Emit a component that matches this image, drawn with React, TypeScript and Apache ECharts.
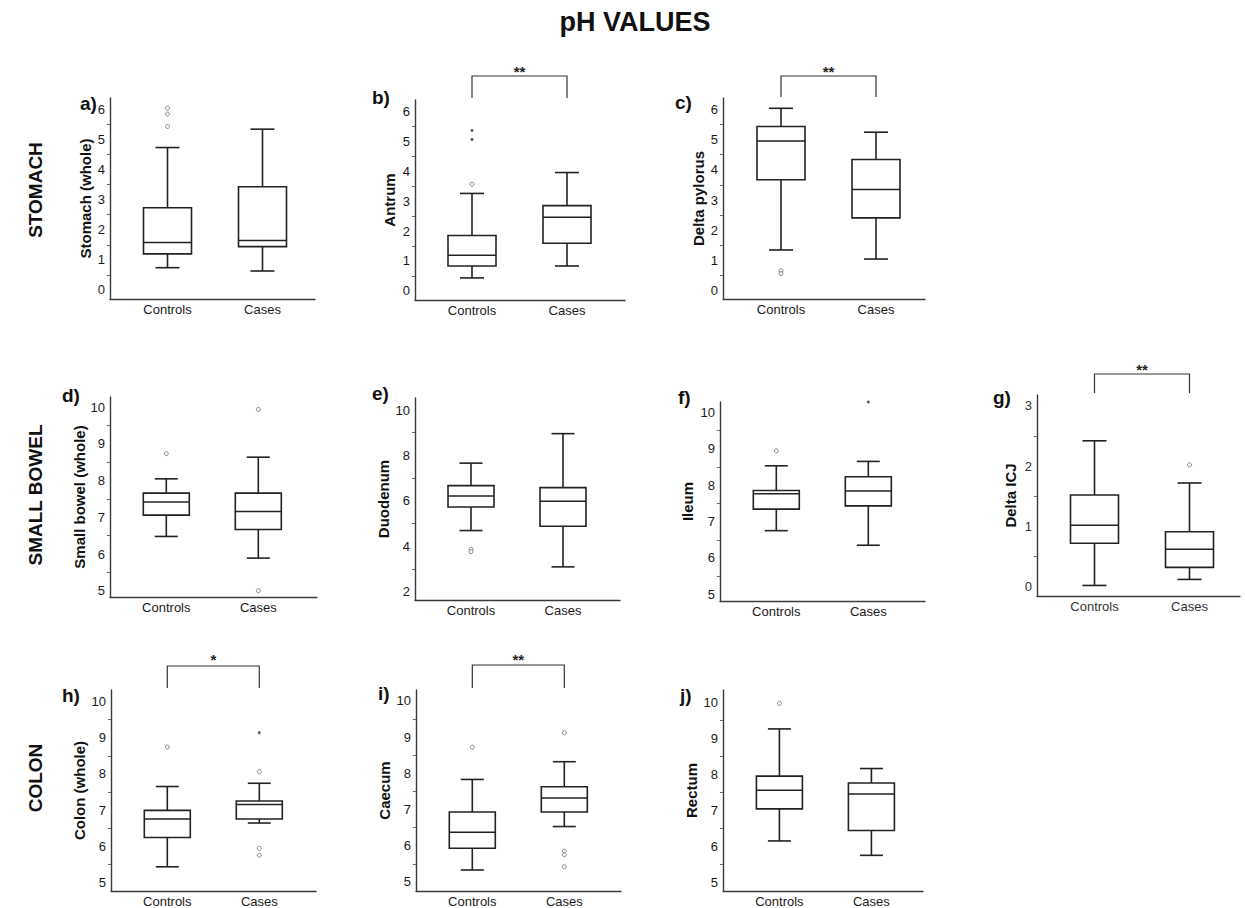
import React, { useEffect, useRef } from "react";
import * as echarts from "echarts";

const FONT = "'Liberation Sans', Arial, Helvetica, sans-serif";

const categories = ["Controls", "Cases"];
const panelLetters = ["a)", "b)", "c)", "d)", "e)", "f)", "g)", "h)", "i)", "j)"];
const yAxisNames = [
  "Stomach (whole)", "Antrum", "Delta pylorus",
  "Small bowel (whole)", "Duodenum", "Ileum", "Delta ICJ",
  "Colon (whole)", "Caecum", "Rectum",
];
const rowLabels = ["STOMACH", "SMALL BOWEL", "COLON"];
const significance = ["", "**", "**", "", "", "", "**", "*", "**", ""];

// Box statistics per group: [min, Q1, median, Q3, max]; first Controls, then Cases
const stomachBox = [[0.74, 1.2, 1.58, 2.73, 4.73], [0.63, 1.44, 1.64, 3.43, 5.34]];
const antrumBox = [[0.43, 0.83, 1.19, 1.85, 3.26], [0.83, 1.59, 2.46, 2.85, 3.96]];
const pylorusBox = [[1.35, 3.67, 4.95, 5.43, 6.03], [1.05, 2.41, 3.35, 4.34, 5.24]];
const smallBowelBox = [[6.48, 7.06, 7.42, 7.66, 8.05], [5.89, 6.67, 7.16, 7.66, 8.64]];
const duodenumBox = [[4.69, 5.73, 6.21, 6.67, 7.66], [3.09, 4.88, 5.98, 6.58, 8.96]];
const ileumBox = [[6.75, 7.34, 7.76, 7.85, 8.53], [6.35, 7.43, 7.84, 8.23, 8.65]];
const icjBox = [[0.02, 0.72, 1.02, 1.52, 2.42], [0.12, 0.32, 0.62, 0.91, 1.72]];
const colonBox = [[5.43, 6.24, 6.75, 6.99, 7.65], [6.64, 6.75, 7.15, 7.25, 7.74]];
const caecumBox = [[5.33, 5.93, 6.37, 6.93, 7.83], [6.53, 6.93, 7.32, 7.63, 8.32]];
const rectumBox = [[6.15, 7.04, 7.56, 7.95, 9.26], [5.75, 6.44, 7.45, 7.76, 8.16]];

// Outliers (circles): [group index, value]
const stomachOut = [[0, 6.04], [0, 5.84], [0, 5.43]];
const antrumOut = [[0, 3.57]];
const pylorusOut = [[0, 0.66], [0, 0.57]];
const smallBowelOut = [[0, 8.74], [1, 9.94], [1, 5.0]];
const duodenumOut = [[0, 3.87], [0, 3.76]];
const ileumOut = [[0, 8.94]];
const icjOut = [[1, 2.02]];
const colonOut = [[0, 8.74], [1, 8.06], [1, 5.94], [1, 5.75]];
const caecumOut = [[0, 8.72], [1, 9.12], [1, 5.85], [1, 5.75], [1, 5.42]];
const rectumOut = [[0, 9.97]];

// Extreme values (asterisks): [group index, value]
const antrumExt = [[0, 5.37], [0, 5.07]];
const ileumExt = [[1, 10.28]];
const colonExt = [[1, 9.14]];

// Tick labels
const stomachTicks = [0, 1, 2, 3, 4, 5, 6];
const bowelTicks = [5, 6, 7, 8, 9, 10];
const duodenumTicks = [2, 4, 6, 8, 10];
const icjTicks = [0, 1, 2, 3];

const boxes = [stomachBox, antrumBox, pylorusBox, smallBowelBox, duodenumBox, ileumBox, icjBox, colonBox, caecumBox, rectumBox];
const outs = [stomachOut, antrumOut, pylorusOut, smallBowelOut, duodenumOut, ileumOut, icjOut, colonOut, caecumOut, rectumOut];
const exts = [[], antrumExt, [], [], [], ileumExt, [], colonExt, [], []];
const ticks = [stomachTicks, stomachTicks, stomachTicks, bowelTicks, duodenumTicks, bowelTicks, icjTicks, bowelTicks, bowelTicks, bowelTicks];

// Layout (pixels) per panel
const layouts = [
  { left: 110, top: 98, bottom: 299, width: 205, sp: 95, off: 57.5, yMin: -0.3, yMax: 6.375, gap: 17, lx: 80, ly: 103, bw: 48 },
  { left: 415, top: 100, bottom: 300, width: 210, sp: 95, off: 57, yMin: -0.31, yMax: 6.39, gap: 18, lx: 372, ly: 97, bw: 48, brTop: 76, brBot: 98, starY: 68 },
  { left: 723, top: 98, bottom: 299, width: 202, sp: 95, off: 58, yMin: -0.27, yMax: 6.37, gap: 17, lx: 675, ly: 102, bw: 48, brTop: 76, brBot: 97, starY: 68 },
  { left: 110, top: 397, bottom: 597, width: 207, sp: 92, off: 56.3, yMin: 4.83, yMax: 10.28, gap: 23, lx: 62, ly: 395, bw: 46 },
  { left: 415, top: 398, bottom: 600, width: 205, sp: 92, off: 56, yMin: 1.63, yMax: 10.53, gap: 24, lx: 372, ly: 393, bw: 46 },
  { left: 720, top: 402, bottom: 601, width: 205, sp: 92, off: 56.3, yMin: 4.82, yMax: 10.28, gap: 25, lx: 678, ly: 397, bw: 46 },
  { left: 1037, top: 395, bottom: 596, width: 203, sp: 95, off: 57.5, yMin: -0.155, yMax: 3.18, gap: 19, lx: 993, ly: 397, bw: 48, brTop: 374, brBot: 393, starY: 366 },
  { left: 111, top: 690, bottom: 891, width: 205, sp: 92, off: 56.3, yMin: 4.76, yMax: 10.32, gap: 24, lx: 62, ly: 695, bw: 46, brTop: 666, brBot: 688, starY: 656 },
  { left: 416, top: 690, bottom: 891, width: 205, sp: 92, off: 56.3, yMin: 4.75, yMax: 10.3, gap: 24, lx: 378, ly: 693, bw: 46, brTop: 665, brBot: 688, starY: 656 },
  { left: 723, top: 690, bottom: 891, width: 200, sp: 92, off: 56.4, yMin: 4.76, yMax: 10.34, gap: 24, lx: 680, ly: 695, bw: 46 },
];

const rowLabelPos = [
  { x: 35, y: 190 },
  { x: 35, y: 495 },
  { x: 35, y: 778 },
];

const INK = "#222";

function makeRender(bw: number) {
  return (params: any, api: any) => {
    const x = api.value(0);
    const mn = api.coord([x, api.value(1)]);
    const q1 = api.coord([x, api.value(2)]);
    const md = api.coord([x, api.value(3)]);
    const q3 = api.coord([x, api.value(4)]);
    const mx = api.coord([x, api.value(5)]);
    const cx = mn[0];
    const h = bw / 2;
    const c = bw / 4;
    const ls = { stroke: INK, lineWidth: 1.6 };
    return {
      type: "group",
      children: [
        { type: "line", shape: { x1: cx, y1: mx[1], x2: cx, y2: q3[1] }, style: ls },
        { type: "line", shape: { x1: cx - c, y1: mx[1], x2: cx + c, y2: mx[1] }, style: ls },
        { type: "line", shape: { x1: cx, y1: q1[1], x2: cx, y2: mn[1] }, style: ls },
        { type: "line", shape: { x1: cx - c, y1: mn[1], x2: cx + c, y2: mn[1] }, style: ls },
        { type: "rect", shape: { x: cx - h, y: q3[1], width: bw, height: q1[1] - q3[1] }, style: { fill: "#fff", stroke: INK, lineWidth: 1.6 } },
        { type: "line", shape: { x1: cx - h, y1: md[1], x2: cx + h, y2: md[1] }, style: { stroke: INK, lineWidth: 1.5 } },
      ],
    };
  };
}

export default function App() {
  const ref = useRef<HTMLDivElement>(null);
  useEffect(() => {
    if (!ref.current) return;
    const chart = echarts.init(ref.current, undefined, { renderer: "svg" });
    const grids: any[] = [];
    const xAxes: any[] = [];
    const yAxes: any[] = [];
    const series: any[] = [];
    layouts.forEach((L, i) => {
      const xMin = 1 - L.off / L.sp;
      const xMax = xMin + L.width / L.sp;
      const tv = ticks[i];
      const half: number[] = [];
      for (let k = 0; k < tv.length - 1; k++) half.push((tv[k] + tv[k + 1]) / 2);
      const light = i === 6;
      grids.push({ left: L.left, top: L.top, width: L.width, height: L.bottom - L.top });
      xAxes.push({
        type: "value",
        gridIndex: i,
        min: xMin,
        max: xMax,
        axisLine: { show: true, onZero: false, lineStyle: { color: "#3a3a3a", width: 1.4 } },
        axisTick: { show: false },
        splitLine: { show: false },
        axisLabel: {
          customValues: [1, 2],
          formatter: (v: number) => categories[Math.round(v) - 1] || "",
          margin: 4,
          fontSize: 13,
          fontFamily: FONT,
          color: light ? "#333" : "#1a1a1a",
        },
      });
      yAxes.push({
        type: "value",
        gridIndex: i,
        min: L.yMin,
        max: L.yMax,
        axisLine: { show: true, onZero: false, lineStyle: { color: "#3a3a3a", width: 1.4 } },
        axisTick: { show: true, customValues: half, length: 3, lineStyle: { color: "#666", width: 1 } },
        splitLine: { show: false },
        axisLabel: {
          customValues: tv,
          margin: 5,
          fontSize: 13,
          fontFamily: FONT,
          color: light ? "#333" : "#1a1a1a",
        },
        name: yAxisNames[i],
        nameLocation: "middle",
        nameRotate: 90,
        nameGap: L.gap,
        nameTextStyle: { fontWeight: "bold", fontSize: 15, fontFamily: FONT, color: "#111" },
      });
      series.push({
        type: "custom",
        xAxisIndex: i,
        yAxisIndex: i,
        renderItem: makeRender(L.bw),
        encode: { x: 0, y: [1, 2, 3, 4, 5] },
        data: boxes[i].map((b, g) => [g + 1, ...b]),
        z: 2,
      });
      series.push({
        type: "scatter",
        xAxisIndex: i,
        yAxisIndex: i,
        symbol: "circle",
        symbolSize: 4,
        itemStyle: { color: "#fff", borderColor: "#6a6a6a", borderWidth: 1 },
        data: outs[i].map((o) => [o[0] + 1, o[1]]),
        z: 3,
      });
      if (exts[i].length) {
        series.push({
          type: "scatter",
          xAxisIndex: i,
          yAxisIndex: i,
          symbol: "circle",
          symbolSize: 3,
          itemStyle: { color: "#333" },
          data: exts[i].map((o) => [o[0] + 1, o[1]]),
          z: 3,
        });
      }
    });

    const graphic: any[] = [];
    graphic.push({
      type: "text",
      x: 635,
      y: 22,
      style: { text: "pH VALUES", fontSize: 27, fontWeight: "bold", fontFamily: FONT, fill: "#111", align: "center", verticalAlign: "middle" },
    });
    rowLabels.forEach((t, r) => {
      graphic.push({
        type: "text",
        x: rowLabelPos[r].x,
        y: rowLabelPos[r].y,
        rotation: Math.PI / 2,
        style: { text: t, fontSize: 19, fontWeight: "bold", fontFamily: FONT, fill: "#111", align: "center", verticalAlign: "middle" },
      });
    });
    layouts.forEach((L, i) => {
      graphic.push({
        type: "text",
        x: L.lx,
        y: L.ly,
        style: { text: panelLetters[i], fontSize: 19, fontWeight: "bold", fontFamily: FONT, fill: "#111", align: "left", verticalAlign: "middle" },
      });
    });

    chart.setOption({
      animation: false,
      backgroundColor: "#fff",
      grid: grids,
      xAxis: xAxes,
      yAxis: yAxes,
      series,
      graphic,
    });

    layouts.forEach((L: any, i) => {
      if (!significance[i]) return;
      const p1 = chart.convertToPixel({ gridIndex: i }, [1, L.yMin]) as number[];
      const p2 = chart.convertToPixel({ gridIndex: i }, [2, L.yMin]) as number[];
      graphic.push({
        type: "polyline",
        shape: { points: [[p1[0], L.brBot], [p1[0], L.brTop], [p2[0], L.brTop], [p2[0], L.brBot]] },
        style: { stroke: "#333", lineWidth: 1.2, fill: "none" },
      });
      graphic.push({
        type: "text",
        x: (p1[0] + p2[0]) / 2,
        y: L.starY + 3,
        style: { text: significance[i], fontSize: 15, fontWeight: "bold", fontFamily: FONT, fill: "#222", align: "center", verticalAlign: "middle" },
      });
    });
    chart.setOption({ graphic });

    return () => chart.dispose();
  }, []);
  return <div ref={ref} style={{ position: "absolute", left: 0, top: 0, width: 1245, height: 908 }} />;
}
